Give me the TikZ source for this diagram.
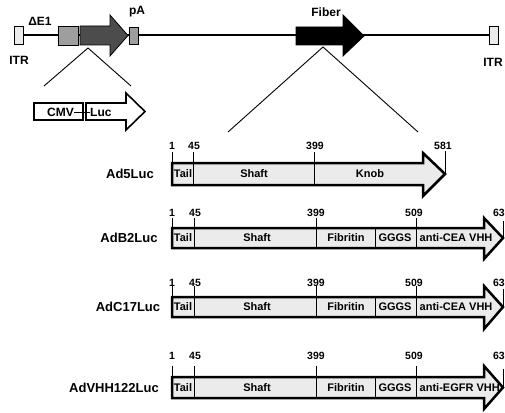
\documentclass[tikz,border=0pt]{standalone}
\usepackage{fontspec}
\setmainfont{Liberation Sans}
\begin{document}
\begin{tikzpicture}[x=1pt,y=-1pt,
  lbl/.style={font=\bfseries\fontsize{12}{12}\selectfont, inner sep=0pt},
  rowlbl/.style={font=\bfseries\fontsize{13}{13}\selectfont, inner sep=0pt},
  num/.style={font=\bfseries\fontsize{10.5}{10.5}\selectfont, inner sep=0pt},
  part/.style={font=\bfseries\fontsize{11}{11}\selectfont, inner sep=0pt},
  fiber/.style={draw=black, line width=2.5pt, fill=black!8, line join=miter},
  sep/.style={line width=0.9pt},
  tick/.style={line width=0.9pt},
  zoomline/.style={line width=0.9pt},
  itr/.style={draw=black, line width=0.8pt, fill=black!8},
  gbox/.style={draw=black, line width=0.8pt, fill=black!38},
]
\useasboundingbox (0,0) rectangle (505,412);
\clip (0,0) rectangle (505,412);

% ---------- genome ----------
\draw[line width=2pt] (23,35.5) -- (489,35.5);
\draw[itr] (14,26) rectangle (23,44);
\draw[itr] (489,26) rectangle (498,44);
\draw[gbox] (58,26) rectangle (78,45);
\draw[draw=black, line width=0.8pt, fill=black!70] (80,26) -- (110,26) -- (110,15) -- (128,35.5) -- (110,56) -- (110,45) -- (80,45) -- cycle;
\draw[gbox] (129,27) rectangle (138,44);
\draw[fill=black, draw=black, line width=0.8pt] (296,27) -- (343,27) -- (343,15) -- (364,36) -- (343,56) -- (343,45) -- (296,45) -- cycle;

\node[lbl] (de1) at (40,21) {ΔE1};
\node[lbl] (pa) at (137,12) {pA};
\node[lbl] (fib) at (326,12) {Fiber};
\node[lbl] (itrl) at (19,60) {ITR};
\node[lbl] (itrr) at (493,62) {ITR};

% ---------- zoom lines ----------
\coordinate (za) at (88,48);
\coordinate (zl) at (44,86);
\coordinate (zr) at (131,86);
\draw[zoomline] (zl) -- (za) -- (zr);
\coordinate (fa) at (323,47);
\coordinate (fl) at (228,132);
\coordinate (fr) at (418,132);
\draw[zoomline] (fl) -- (fa) -- (fr);

% ---------- CMV-Luc ----------
\draw[line width=1.6pt] (34,103) rectangle (83,120);
\draw[line width=1.6pt, fill=white, line join=miter] (86,103) -- (126,103) -- (126,93) -- (145,111.5) -- (126,130) -- (126,120) -- (86,120) -- cycle;
\node[lbl, anchor=east] (cmv) at (74,112) {CMV};
\node[lbl, anchor=west] (luc) at (90,112) {Luc};
\draw[line width=1pt] (cmv.east) -- (luc.west);

% ---------- Ad5Luc ----------
\node[rowlbl] (r1) at (130,174) {Ad5Luc};
\draw[fiber] (172,163) -- (423,163) -- (423,153) -- (445,174) -- (423,196) -- (423,185) -- (172,185) -- cycle;
\draw[tick] (172,152) -- (172,163);
\draw[sep] (193,152) -- (193,185);
\draw[sep] (314,152) -- (314,185);
\draw[tick] (445,151) -- (445,174);
\node[num] (a1) at (172,146) {1};
\node[num] (a45) at (194,146) {45};
\node[num] (a399) at (315,146) {399};
\node[num] (a581) at (443,146) {581};
\node[part] (at) at (183,174) {Tail};
\node[part] (as) at (254,174) {Shaft};
\node[part] (ak) at (370,174) {Knob};

% ---------- generic VHH rows ----------
\foreach \yt/\yb/\yc/\hu/\hd/\ny/\nm/\lx/\tx/\tgt in {
  228/248/238/218/259/213/AdB2Luc/129/anti-CEA VHH/b,
  297/317/307/286/329/283/AdC17Luc/128/anti-CEA VHH/c,
  377/398/387.5/366/409/356/AdVHH122Luc/114/anti-EGFR VHH/d} {
  \node[rowlbl] (\tgt lab) at (\lx,\yc) {\nm};
  \draw[fiber] (172,\yt) -- (484,\yt) -- (484,\hu) -- (503,\yc) -- (484,\hd) -- (484,\yb) -- (172,\yb) -- cycle;
  \draw[tick] (172,\hu) -- (172,\yt);
  \draw[sep] (194,\hu) -- (194,\yb);
  \draw[sep] (316,\hu) -- (316,\yb);
  \draw[sep] (375,\yt) -- (375,\yb);
  \draw[sep] (416,\hu) -- (416,\yb);
  \draw[tick] (503,\hu+3) -- (503,\yc);
  \node[num] (\tgt n1) at (172,\ny) {1};
  \node[num] (\tgt n45) at (195,\ny) {45};
  \node[num] (\tgt n399) at (316,\ny) {399};
  \node[num] (\tgt n509) at (414,\ny) {509};
  \node[num, anchor=east] (\tgt n63) at (505,\ny) {63};
  \node[part] (\tgt t) at (183,\yc) {Tail};
  \node[part] (\tgt s) at (257,\yc) {Shaft};
  \node[part] (\tgt f) at (346,\yc) {Fibritin};
  \node[part] (\tgt g) at (395,\yc) {GGGS};
  \node[part, anchor=west] (\tgt v) at (419.5,\yc) {\tx};
}
\end{tikzpicture}
\end{document}
